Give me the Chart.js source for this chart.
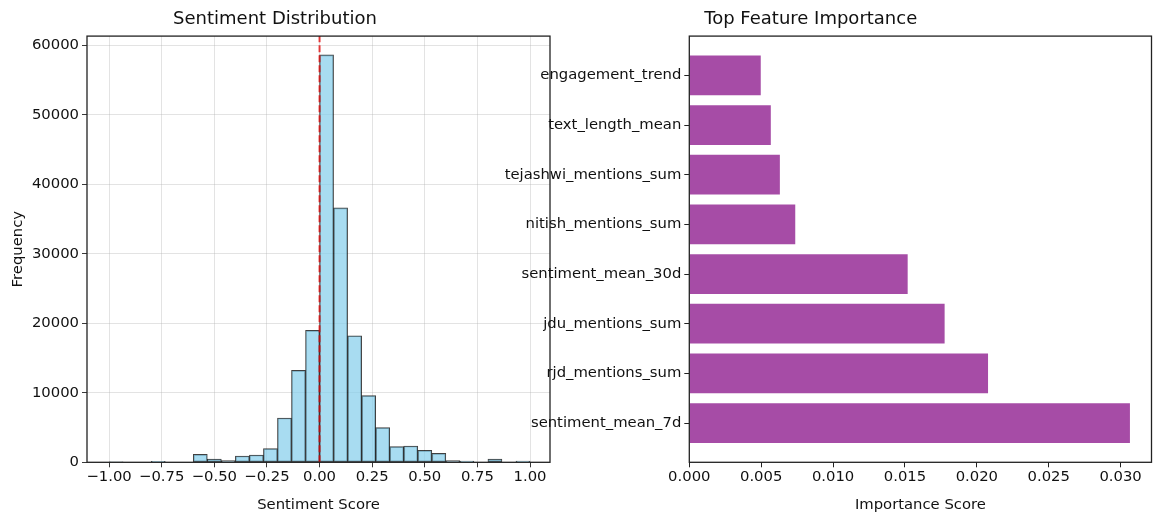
<!DOCTYPE html>
<html>
<head>
<meta charset="utf-8">
<script src="https://cdn.jsdelivr.net/npm/chart.js@4.4.0/dist/chart.umd.min.js"></script>
<style>
  html, body { margin: 0; padding: 0; background: #fff; }
  #wrap { position: relative; width: 1153px; height: 517px; overflow: hidden; background: #fff; }
  #hist { position: absolute; left: 0; top: 0; }
  #imp { position: absolute; left: 470px; top: 0; }
</style>
</head>
<body>
<div id="wrap">
  <canvas id="hist" width="570" height="517"></canvas>
  <canvas id="imp" width="683" height="517"></canvas>
</div>
<script>
// ---- Sentiment histogram: 30 equal bins over [-1, 1] ----
const BIN_START = -1;
const BIN_WIDTH = 2 / 30;
const sentimentCounts = [
  20, 0, 0, 150, 0, 0, 1150, 480, 240, 910,
  1050, 1960, 6370, 13220, 18970, 58600, 36600, 18200, 9580, 4980,
  2250, 2350, 1720, 1290, 240, 190, 0, 480, 0, 190
];
const sentimentTicks = [-1, -0.75, -0.5, -0.25, 0, 0.25, 0.5, 0.75, 1];
const frequencyTicks = [0, 10000, 20000, 30000, 40000, 50000, 60000];
const neutralScore = 0;

// ---- Feature importance (bottom to top) ----
const featureNames = [
  'sentiment_mean_7d', 'rjd_mentions_sum', 'jdu_mentions_sum', 'sentiment_mean_30d',
  'nitish_mentions_sum', 'tejashwi_mentions_sum', 'text_length_mean', 'engagement_trend'
];
const featureImportance = [0.03065, 0.02078, 0.01776, 0.01519, 0.00737, 0.00630, 0.00567, 0.00497];
const importanceTicks = [0, 0.005, 0.010, 0.015, 0.020, 0.025, 0.030];

const FONT = 'DejaVu Sans';
const TEXT = '#111';
const tickFont = { family: FONT, size: 14.8 };
const titleFont = { family: FONT, size: 18, weight: 'normal' };
const fmtMinus = (v, d) => (v < 0 ? '\u2212' : '') + Math.abs(v).toFixed(d);

// box around each plot area
const frame = {
  id: 'frame',
  afterDraw(chart) {
    const { ctx, chartArea: a } = chart;
    ctx.save();
    ctx.strokeStyle = '#222';
    ctx.lineWidth = 1.3;
    ctx.strokeRect(a.left, a.top, a.right - a.left, a.bottom - a.top);
    ctx.restore();
  }
};

const gridStyle = {
  color: 'rgba(176,176,176,0.4)',
  lineWidth: 0.9,
  tickColor: '#222',
  tickLength: 5,
  offset: false
};

Chart.defaults.animation = false;

// Histogram
const binCenters = sentimentCounts.map((_, i) => BIN_START + (i + 0.5) * BIN_WIDTH);
new Chart(document.getElementById('hist'), {
  type: 'bar',
  data: {
    datasets: [
      {
        type: 'line',
        data: [{ x: neutralScore, y: 0 }, { x: neutralScore, y: 61300 }],
        borderColor: 'rgba(225,0,0,0.75)',
        borderWidth: 2,
        borderDash: [7, 3],
        pointRadius: 0,
        order: 0
      },
      {
        data: binCenters.map((x, i) => ({ x, y: sentimentCounts[i] })),
        backgroundColor: 'rgba(135,206,235,0.72)',
        borderColor: 'rgba(0,0,0,0.75)',
        borderWidth: 1,
        borderSkipped: false,
        categoryPercentage: 1,
        barPercentage: 1,
        order: 1
      }
    ]
  },
  options: {
    responsive: false,
    layout: { padding: { left: 0, right: 20, top: 0, bottom: 0 } },
    plugins: {
      legend: { display: false },
      tooltip: { enabled: false },
      title: {
        display: true, text: 'Sentiment Distribution', color: TEXT, font: titleFont,
        padding: { top: 8.5, bottom: 6 }
      }
    },
    scales: {
      x: {
        type: 'linear', min: -1.105, max: 1.095, offset: false,
        afterBuildTicks: s => { s.ticks = sentimentTicks.map(v => ({ value: v })); },
        afterFit: s => { s.height = 54.7; },
        ticks: { callback: v => fmtMinus(v, 2), font: tickFont, color: TEXT, padding: 1, maxRotation: 0, autoSkip: false },
        grid: gridStyle,
        border: { display: false },
        title: { display: true, text: 'Sentiment Score', font: tickFont, color: TEXT, padding: { top: 0, bottom: 3 } }
      },
      y: {
        type: 'linear', min: 0, max: 61300,
        afterBuildTicks: s => { s.ticks = frequencyTicks.map(v => ({ value: v })); },
        afterFit: s => { s.width = 87; },
        ticks: { callback: v => String(v), font: tickFont, color: TEXT, padding: 3 },
        grid: gridStyle,
        border: { display: false },
        title: { display: true, text: 'Frequency', font: tickFont, color: TEXT, padding: { top: 9, bottom: 0 } }
      }
    }
  },
  plugins: [frame]
});

// Feature importance
new Chart(document.getElementById('imp'), {
  type: 'bar',
  data: {
    datasets: [{
      data: featureImportance.map((v, i) => ({ x: v, y: i })),
      backgroundColor: 'rgba(128,0,128,0.7)',
      borderWidth: 0,
      categoryPercentage: 1,
      barPercentage: 0.8
    }]
  },
  options: {
    responsive: false,
    indexAxis: 'y',
    layout: { padding: { left: 0, right: 1.5, top: 0, bottom: 0 } },
    plugins: {
      legend: { display: false },
      tooltip: { enabled: false },
      title: {
        display: true, text: 'Top Feature Importance', color: TEXT, font: titleFont,
        padding: { top: 8.5, bottom: 6 }
      }
    },
    scales: {
      x: {
        type: 'linear', min: 0, max: 0.03215,
        afterBuildTicks: s => { s.ticks = importanceTicks.map(v => ({ value: v })); },
        afterFit: s => { s.height = 54.7; },
        ticks: { callback: v => v.toFixed(3), font: tickFont, color: TEXT, padding: 1, maxRotation: 0, autoSkip: false },
        grid: { drawOnChartArea: false, tickColor: '#222', tickLength: 5, offset: false },
        border: { display: false },
        title: { display: true, text: 'Importance Score', font: tickFont, color: TEXT, padding: { top: 0, bottom: 3 } }
      },
      y: {
        type: 'linear', min: -0.79, max: 7.79, offset: false,
        afterBuildTicks: s => { s.ticks = featureNames.map((_, i) => ({ value: i })); },
        afterFit: s => { s.width = 219.3; },
        ticks: { callback: v => featureNames[v], font: tickFont, color: TEXT, padding: 3 },
        grid: { drawOnChartArea: false, tickColor: '#222', tickLength: 5, offset: false },
        border: { display: false }
      }
    }
  },
  plugins: [frame]
});
</script>
</body>
</html>
